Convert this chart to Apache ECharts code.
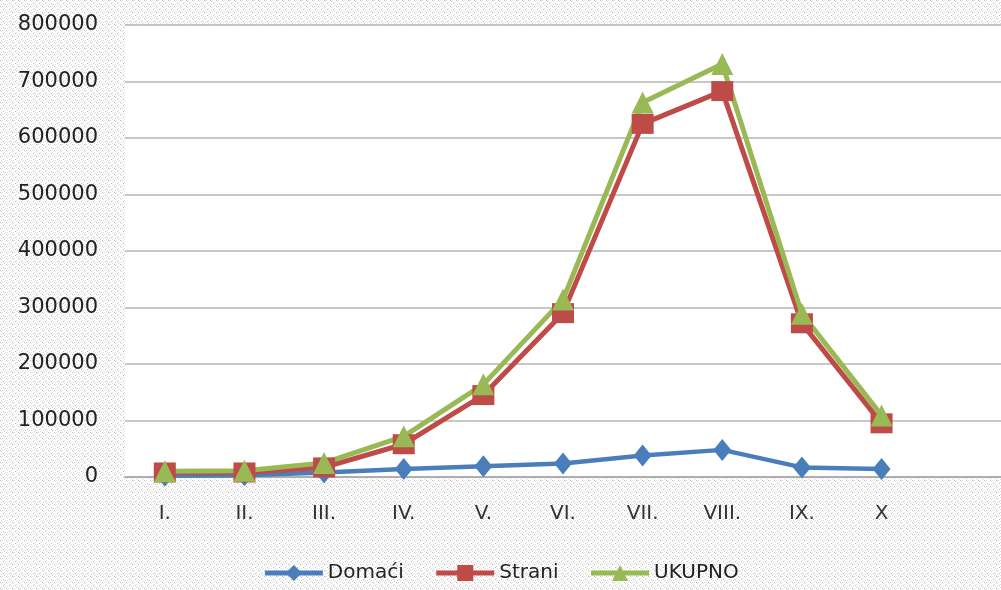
<!DOCTYPE html>
<html><head><meta charset="utf-8">
<script src="https://cdn.jsdelivr.net/npm/echarts@6/dist/echarts.min.js"></script>
<style>html,body{margin:0;padding:0;background:#fff}#c{width:1001px;height:590px}</style>
</head><body><div id="c"></div>
<script>
const categories = ['I.', 'II.', 'III.', 'IV.', 'V.', 'VI.', 'VII.', 'VIII.', 'IX.', 'X', ''];
const domaci = [2000, 3000, 8000, 14000, 19000, 24000, 38000, 48000, 17000, 14000];
const strani = [8000, 8000, 17000, 58000, 145000, 290000, 625000, 683000, 272000, 95000];
const ukupno = [10000, 11000, 25000, 72000, 164000, 314000, 663000, 731000, 289000, 109000];
const yTicks = {min: 0, max: 800000, interval: 100000};

// dotted background pattern
const pc = document.createElement('canvas');
pc.width = 6; pc.height = 6;
const g = pc.getContext('2d');
g.fillStyle = '#ffffff'; g.fillRect(0, 0, 6, 6);
g.fillStyle = '#bdbdbd';
[[0,0],[3,3]].forEach(p => g.fillRect(p[0], p[1], 1, 1));
g.fillStyle = '#dedede';
[[1,1],[2,0],[4,2],[5,4],[1,4],[4,5]].forEach(p => g.fillRect(p[0], p[1], 1, 1));

const chart = echarts.init(document.getElementById('c'), null, {renderer: 'canvas'});
const font = 'DejaVu Sans';
chart.setOption({
  animation: false,
  backgroundColor: {image: pc, repeat: 'repeat'},
  grid: {left: 125, top: 25, width: 880, bottom: 113, show: true, backgroundColor: '#ffffff', borderWidth: 0},
  legend: {
    bottom: 2, left: 'center', itemWidth: 58, itemHeight: 20, itemGap: 30,
    lineStyle: {width: 5},
    textStyle: {fontFamily: font, fontSize: 20, color: '#222'},
    data: ['Domaći', 'Strani', 'UKUPNO']
  },
  xAxis: {
    type: 'category', data: categories, boundaryGap: true,
    axisLine: {lineStyle: {color: '#a6a6a6', width: 1.5}},
    axisTick: {show: false},
    axisLabel: {fontFamily: font, fontSize: 20, color: '#333', margin: 27, interval: 0}
  },
  yAxis: {
    type: 'value', min: yTicks.min, max: yTicks.max, interval: yTicks.interval,
    axisLine: {show: false}, axisTick: {show: false},
    splitLine: {lineStyle: {color: '#b4b4b4', width: 1.5}},
    axisLabel: {fontFamily: font, fontSize: 21, color: '#222', margin: 27, formatter: v => String(v)}
  },
  series: [
    {name: 'Domaći', type: 'line', data: domaci, symbol: 'diamond', symbolSize: [18, 22],
     color: '#4a7ebb', lineStyle: {width: 4.5, color: '#4a7ebb'}, itemStyle: {color: '#4a7ebb'}},
    {name: 'Strani', type: 'line', data: strani, symbol: 'rect', symbolSize: [22, 20],
     color: '#be4b48', lineStyle: {width: 5, color: '#be4b48'}, itemStyle: {color: '#be4b48'}},
    {name: 'UKUPNO', type: 'line', data: ukupno, symbol: 'triangle', symbolSize: [22, 22],
     color: '#98b954', lineStyle: {width: 5, color: '#98b954'}, itemStyle: {color: '#98b954'}}
  ]
});
</script></body></html>
